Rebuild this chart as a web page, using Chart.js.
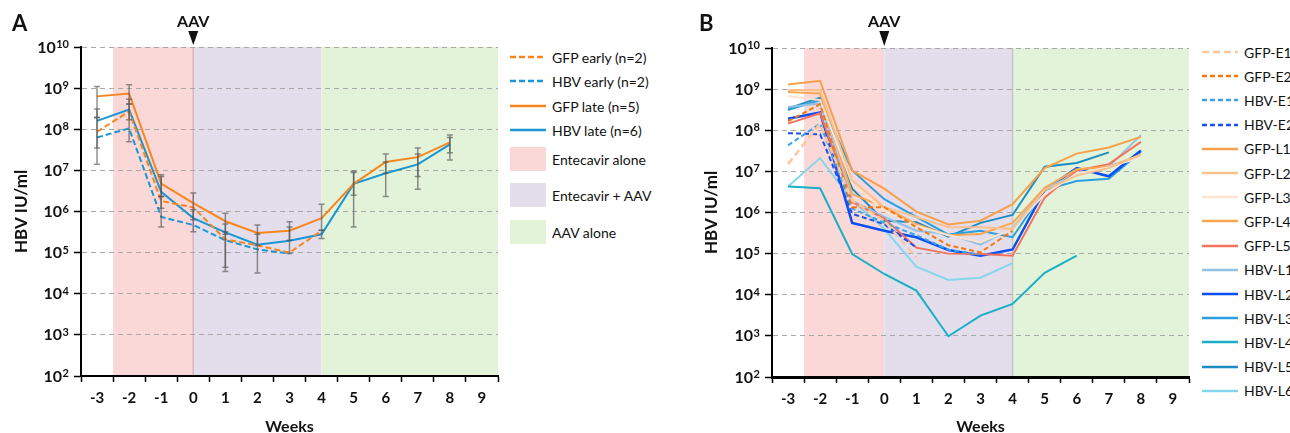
<!DOCTYPE html>
<html>
<head>
<meta charset="utf-8">
<script src="https://cdn.jsdelivr.net/npm/chart.js@4.4.1/dist/chart.umd.min.js"></script>
<style>
  html, body { margin: 0; padding: 0; width: 1290px; height: 433px; overflow: hidden; background: #fff; }
  body { position: relative; font-family: Lato, "Open Sans", sans-serif; color: #111; }
  .wrap { position: absolute; top: 0; width: 505px; height: 440px; }
  .leg { position: absolute; top: 0; font-size: 14px; white-space: nowrap; }
  .item { position: absolute; left: 0; height: 24px; display: flex; align-items: center; }
  .item svg, .item .patch { flex: none; }
  .item .txt { margin-left: 6px; }
</style>
</head>
<body>
<div class="wrap" style="left:0"><canvas id="chartA" width="505" height="440"></canvas></div>
<div class="wrap" style="left:690px"><canvas id="chartB" width="505" height="440"></canvas></div>
<div class="leg" id="legA" style="left:510px"></div>
<div class="leg" id="legB" style="left:1202px"></div>
<script>
  "use strict";

  // ---- shared axis data ----
  var weeks = ["-3","-2","-1","0","1","2","3","4","5","6","7","8","9"];
  var yTickValues = [1e2, 1e3, 1e4, 1e5, 1e6, 1e7, 1e8, 1e9, 1e10];
  var bandNames = ["Entecavir alone", "Entecavir + AAV", "AAV alone"];
  var bandStart = [-2.5, 0, 4];
  var bandEnd = [0, 4, 9.5];
  var aavWeek = 0;

  // ---- panel A: group means (HBV IU/ml), weeks -3..8 ----
  var namesA = ["GFP early (n=2)", "HBV early (n=2)", "GFP late (n=5)", "HBV late (n=6)"];
  var gfpEarly = [8.7e7, 2.7e8, 1.8e6, 1.26e6, 2.1e5, 1.5e5, 1.0e5, 3.4e5];
  var hbvEarly = [6.3e7, 1.05e8, 7.4e5, 4.7e5, 2.0e5, 1.2e5, 9.5e4];
  var gfpLate = [6.3e8, 7.4e8, 4.8e6, 1.6e6, 5.8e5, 3.0e5, 3.4e5, 6.9e5, 4.7e6, 1.6e7, 2.1e7, 4.8e7];
  var hbvLate = [1.6e8, 3.0e8, 3.0e6, 6.9e5, 3.1e5, 1.55e5, 1.95e5, 2.8e5, 4.7e6, 8.5e6, 1.4e7, 4.3e7];

  // error bar ends
  var gfpEarlyLo = [1.4e7, 1.7e8, 1.2e6, null, 4.4e4];
  var gfpEarlyHi = [1.95e8, 4.1e8, 2.3e6, null, 3.2e5];
  var gfpLateLo = [1.9e8, 4.1e8, 2.3e6, 6.3e5, 2.8e5, 1.5e5, 2.0e5, 3.5e5, 2.5e6, 8.5e6, 7.1e6, 2.7e7];
  var gfpLateHi = [1.1e9, 1.2e9, 7.8e6, 2.8e6, 9.1e5, 4.7e5, 5.6e5, 1.5e6, 8.9e6, 2.5e7, 3.5e7, 7.2e7];
  var hbvLateLo = [3.5e7, 5.0e7, 4.2e5, 3.2e5, 3.5e4, 3.2e4, 9.5e4, 2.2e5, 4.2e5, 2.3e6, 3.5e6, 1.8e7];
  var hbvLateHi = [3.1e8, 5.4e8, 7.1e6, 1.1e6, 5.0e5, 2.8e5, 4.2e5, 3.5e5, 9.5e6, 1.6e7, 2.5e7, 6.3e7];

  // ---- panel B: individual animals ----
  var namesB = ["GFP-E1","GFP-E2","HBV-E1","HBV-E2","GFP-L1","GFP-L2","GFP-L3","GFP-L4","GFP-L5",
                "HBV-L1","HBV-L2","HBV-L3","HBV-L4","HBV-L5","HBV-L6"];
  var gfpE1 = [1.5e7, 1.45e8, 1.95e6, 6.3e5, 8.1e4];
  var gfpE2 = [1.65e8, 4.3e8, 1.35e6, 1.35e6, 4.4e5, 1.6e5, 1.07e5, 3.6e5];
  var hbvE1 = [4.3e7, 1.45e8, 1.25e6, 5.6e5, 2.8e5, 1.25e5, 9.5e4];
  var hbvE2 = [8.5e7, 8.0e7, 9.3e5, 5.2e5, 1.4e5];
  var gfpL1 = [1.3e9, 1.6e9, 1.05e7, 3.8e6, 1.05e6, 5.1e5, 6.3e5, 1.6e6, 1.2e7, 2.7e7, 3.8e7, 6.9e7];
  var gfpL2 = [9.5e8, 9.5e8, 6.0e6, 1.35e6, 7.8e5, 4.4e5, 4.4e5, 4.0e5, 3.5e6, 7.9e6, 1.2e7, 2.6e7];
  var gfpL3 = [6.8e8, 5.4e8, 5.0e6, 1.1e6, 4.8e5, 2.8e5, 1.9e5, 4.0e5, 2.8e6, 8.9e6, 1.26e7, 2.2e7];
  var gfpL4 = [8.5e8, 7.8e8, 2.8e6, 1.35e6, 5.2e5, 2.8e5, 3.0e5, 5.6e5, 4.0e6, 1.12e7, 1.3e7, 2.5e7];
  var gfpL5 = [1.45e8, 2.6e8, 1.8e6, 7.1e5, 1.4e5, 1.0e5, 9.8e4, 8.9e4, 2.3e6, 1.05e7, 1.5e7, 5.2e7];
  var hbvL1 = [3.7e8, 4.5e8, 1.95e6, 7.8e5, 3.6e5, 3.0e5, 1.65e5, 4.2e5, 3.8e6, 8.7e6, 1.3e7, 7.6e7];
  var hbvL2 = [1.9e8, 2.7e8, 5.6e5, 3.6e5, 2.5e5, 1.23e5, 8.9e4, 1.26e5, 3.5e6, 1.2e7, 7.6e6, 3.2e7];
  var hbvL3 = [3.1e8, 5.4e8, 1.05e7, 2.1e6, 7.8e5, 2.9e5, 3.6e5, 2.5e5, 3.5e6, 5.8e6, 6.6e6, 3.0e7];
  var hbvL4 = [4.3e6, 3.9e6, 9.8e4, 3.2e4, 1.26e4, 9.8e2, 3.1e3, 6.0e3, 3.4e4, 8.9e4];
  var hbvL5 = [3.4e8, 6.2e8, 3.8e6, 6.3e5, 5.8e5, 2.6e5, 5.6e5, 8.7e5, 1.3e7, 1.6e7, 2.9e7];
  var hbvL6 = [4.3e6, 2.1e7, 1.95e6, 4.0e5, 4.8e4, 2.3e4, 2.6e4, 5.9e4];

  // ---- styles ----
  var bandColors = ["#FBD8D8", "#E4DEEC", "#E3F3DA"];
  var FONT = "Lato, 'Open Sans', sans-serif";
  var weekOffset = Number(weeks[0]);

  var dataA = [gfpEarly, hbvEarly, gfpLate, hbvLate];
  var colorsA = ["#F7861F", "#1A96D4", "#F7861F", "#1A96D4"];
  var dashA = [[6, 3], [6, 3], [], []];
  var widthA = [2, 2, 2, 2];

  var dataB = [gfpE1, gfpE2, hbvE1, hbvE2, gfpL1, gfpL2, gfpL3, gfpL4, gfpL5, hbvL1, hbvL2, hbvL3, hbvL4, hbvL5, hbvL6];
  var colorsB = ["#FBC7A0", "#F5780F", "#3AA3E3", "#1750EE", "#F7A04C", "#FAC08E", "#FDE3D0", "#F9A850",
                 "#F5735E", "#93C1E4", "#0B4FF2", "#2B9FE2", "#1AAFC6", "#1C8DC4", "#86D6EB"];
  var dashB = [[7, 4], [5, 3], [5, 3], [5, 3], [], [], [], [], [], [], [], [], [], [], []];
  var widthB = [2.5, 2, 2, 2, 2, 2, 2, 2, 2, 2, 2.5, 2, 2, 2, 2];

  // bands, error bars, custom y labels, AAV arrow, panel letter
  var decor = {
    id: "decor",
    beforeDraw: function(chart, args, o) {
      var ctx = chart.ctx, a = chart.chartArea, x = chart.scales.x;
      ctx.save();
      bandStart.forEach(function(s, i) {
        var x0 = x.getPixelForValue(s - weekOffset), x1 = x.getPixelForValue(bandEnd[i] - weekOffset);
        ctx.fillStyle = bandColors[i];
        ctx.fillRect(x0, a.top, x1 - x0, a.bottom - a.top);
      });
      (o.edges || []).forEach(function(e) {
        var px = x.getPixelForValue(e.week - weekOffset);
        ctx.strokeStyle = e.color;
        ctx.lineWidth = 1.5;
        ctx.beginPath(); ctx.moveTo(px, a.top); ctx.lineTo(px, a.bottom); ctx.stroke();
      });
      ctx.restore();
    },
    afterDatasetsDraw: function(chart, args, o) {
      var ctx = chart.ctx, x = chart.scales.x, y = chart.scales.y;
      ctx.save();
      ctx.strokeStyle = "rgba(85,85,85,0.65)";
      ctx.lineWidth = 1.5;
      (o.errors || []).forEach(function(e) {
        e.lo.forEach(function(l, i) {
          if (l == null || e.hi[i] == null) return;
          var px = x.getPixelForValue(i), y0 = y.getPixelForValue(l), y1 = y.getPixelForValue(e.hi[i]);
          ctx.beginPath();
          ctx.moveTo(px, y0); ctx.lineTo(px, y1);
          ctx.moveTo(px - 3, y0); ctx.lineTo(px + 3, y0);
          ctx.moveTo(px - 3, y1); ctx.lineTo(px + 3, y1);
          ctx.stroke();
        });
      });
      ctx.restore();
    },
    afterDraw: function(chart, args, o) {
      var ctx = chart.ctx, a = chart.chartArea, x = chart.scales.x, y = chart.scales.y;
      ctx.save();
      ctx.fillStyle = "#111";
      ctx.textBaseline = "alphabetic";
      ctx.textAlign = "right";
      yTickValues.forEach(function(v) {
        var py = y.getPixelForValue(v);
        var exp = String(Math.round(Math.log10(v)));
        var right = a.left - 12;
        ctx.font = "bold 11px " + FONT;
        var ew = ctx.measureText(exp).width;
        ctx.fillText(exp, right, py + 1);
        ctx.font = "bold 16px " + FONT;
        ctx.fillText("10", right - ew - 0.5, py + 5.5);
      });
      // AAV arrow
      var ax = x.getPixelForValue(aavWeek - weekOffset);
      ctx.textAlign = "center";
      ctx.textBaseline = "middle";
      ctx.font = "bold 16px " + FONT;
      ctx.fillText("AAV", ax, 22);
      ctx.beginPath();
      ctx.moveTo(ax - 5, 31); ctx.lineTo(ax + 5, 31); ctx.lineTo(ax, a.top - 2); ctx.closePath();
      ctx.fill();
      // panel letter
      ctx.textAlign = "left";
      ctx.font = "bold 22px " + FONT;
      ctx.fillText(o.letter, o.letterX, 24);
      ctx.restore();
    }
  };

  function makeOptions(padTop, padRight, yWidth, xHeight, decorOpts, borderW) {
    return {
      responsive: false,
      animation: false,
      layout: { padding: { top: padTop, right: padRight, left: 0, bottom: 0 } },
      plugins: { legend: { display: false }, tooltip: { enabled: false }, decor: decorOpts },
      elements: { point: { radius: 0 }, line: { tension: 0 } },
      scales: {
        x: {
          type: "category",
          offset: true,
          afterFit: function(s) { s.height = xHeight; },
          grid: { offset: true, drawOnChartArea: false, drawTicks: true, tickLength: 6, tickColor: "#000", tickWidth: 1.5 },
          border: { display: true, color: "#000", width: borderW },
          ticks: { color: "#111", font: { family: FONT, weight: "bold", size: 15 }, padding: 7, maxRotation: 0 },
          title: { display: true, text: "Weeks", color: "#111", font: { family: FONT, weight: "bold", size: 16 }, padding: { top: 0, bottom: 4 } }
        },
        y: {
          type: "logarithmic",
          min: yTickValues[0],
          max: yTickValues[yTickValues.length - 1],
          afterBuildTicks: function(s) { s.ticks = yTickValues.map(function(v) { return { value: v }; }); },
          afterFit: function(s) { s.width = yWidth; },
          grid: { color: "#A8A8A8", lineWidth: 1, drawTicks: true, tickLength: 7, tickColor: "#000", tickWidth: 1.5, tickBorderDash: [] },
          border: { display: true, color: "#000", width: 2, dash: [5, 4] },
          ticks: { display: false },
          title: { display: true, text: "HBV IU/ml", color: "#111", font: { family: FONT, weight: "bold", size: 17 }, padding: { top: 11, bottom: 0 } }
        }
      }
    };
  }

  function makeDatasets(names, data, colors, dash, widths) {
    return names.map(function(n, i) {
      return {
        label: n, data: data[i], borderColor: colors[i], backgroundColor: colors[i],
        borderDash: dash[i], borderWidth: widths[i], fill: false, spanGaps: false, pointRadius: 0
      };
    });
  }

  new Chart(document.getElementById("chartA").getContext("2d"), {
    type: "line",
    data: { labels: weeks, datasets: makeDatasets(namesA, dataA, colorsA, dashA, widthA) },
    options: makeOptions(47, 7, 81, 64, {
      letter: "A", letterX: 12,
      edges: [{ week: 0, color: "rgba(200,150,180,0.6)" }],
      errors: [
        { lo: gfpEarlyLo, hi: gfpEarlyHi },
        { lo: gfpLateLo, hi: gfpLateHi },
        { lo: hbvLateLo, hi: hbvLateHi }
      ]
    }, 2),
    plugins: [decor]
  });

  new Chart(document.getElementById("chartB").getContext("2d"), {
    type: "line",
    data: { labels: weeks, datasets: makeDatasets(namesB, dataB, colorsB, dashB, widthB) },
    options: makeOptions(48, 6, 82, 63, {
      letter: "B", letterX: 9,
      edges: [{ week: 4, color: "rgba(150,150,150,0.45)" }],
      errors: []
    }, 3),
    plugins: [decor]
  });

  // ---- HTML legends ----
  function buildLegend(el, items) {
    items.forEach(function(it) {
      var d = document.createElement("div");
      d.className = "item";
      d.style.top = (it.cy - 12) + "px";
      var sample;
      if (it.fill) {
        sample = '<span class="patch" style="display:inline-block;width:36px;height:24px;background:' + it.fill + '"></span>';
      } else {
        sample = '<svg width="36" height="24"><line x1="0" y1="12" x2="36" y2="12" stroke="' + it.color +
          '" stroke-width="' + it.width + '" stroke-dasharray="' + (it.dash.length ? it.dash.join(" ") : "none") + '"/></svg>';
      }
      d.innerHTML = sample + '<span class="txt">' + it.text + "</span>";
      el.appendChild(d);
    });
  }

  var legACenters = [57, 81, 106, 130];
  var bandLegCenters = [159, 195, 232];
  var itemsA = namesA.map(function(n, i) {
    return { cy: legACenters[i], text: n, color: colorsA[i], dash: dashA[i], width: 2.5 };
  }).concat(bandNames.map(function(n, i) {
    return { cy: bandLegCenters[i], text: n, fill: bandColors[i] };
  }));
  buildLegend(document.getElementById("legA"), itemsA);

  var itemsB = namesB.map(function(n, i) {
    return { cy: 52 + i * 24.2, text: n, color: colorsB[i], dash: dashB[i], width: 2.5 };
  });
  buildLegend(document.getElementById("legB"), itemsB);
</script>
</body>
</html>
